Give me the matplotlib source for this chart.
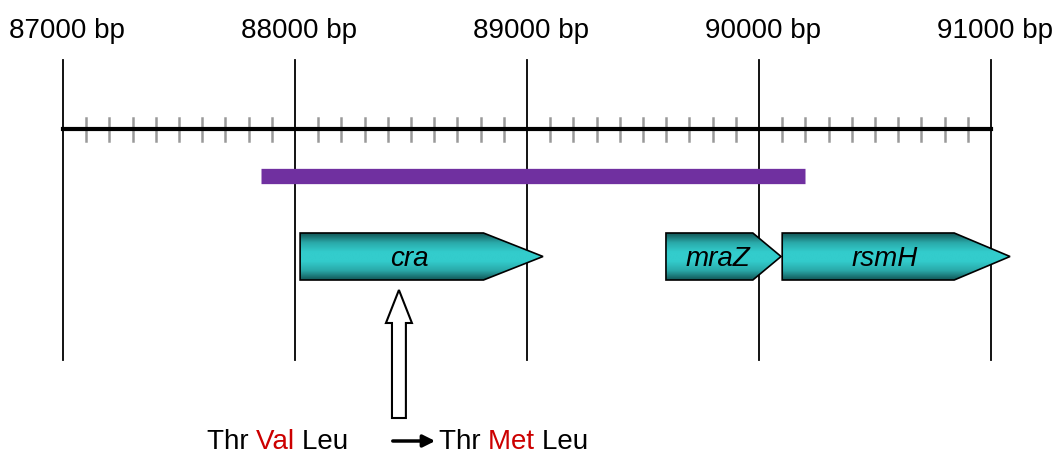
import numpy as np
import matplotlib.pyplot as plt
from matplotlib.patches import Polygon
from matplotlib.colors import LinearSegmentedColormap

plt.rcParams['font.family'] = ['Liberation Sans', 'DejaVu Sans']

# genome coordinates (bp)
major_ticks = [87000, 88000, 89000, 90000, 91000]
minor_step = 100
region = [87853, 90198]          # purple bar
gene_names = ['cra', 'mraZ', 'rsmH']
gene_starts = [88022, 89599, 90100]
gene_ends = [89069, 90095, 91082]
mutation_pos = 88448
before_aa = ['Thr', 'Val', 'Leu']
after_aa = ['Thr', 'Met', 'Leu']

px = 0.232  # pixels per bp
x0 = 87000 - 63 / px
fs = 20

fig = plt.figure(figsize=(10.54, 4.54), dpi=100)
ax = fig.add_axes([0, 0, 1, 1])
ax.set_xlim(x0, x0 + 1054 / px)
ax.set_ylim(454, 0)
ax.axis('off')

# ruler
for t in major_ticks:
    ax.plot([t, t], [60, 360], color='black', lw=1.3, zorder=2)
    ax.text(t + 17, 31, f'{t} bp', ha='center', va='center', fontsize=fs)
minors = [m for m in range(major_ticks[0], major_ticks[-1], minor_step) if m % 1000]
for m in minors:
    ax.plot([m, m], [118, 141], color='#999999', lw=1.8, zorder=2)
ax.plot([major_ticks[0], major_ticks[-1]], [129, 129], color='black', lw=3, zorder=3)

# region bar
ax.plot(region, [175.5, 175.5], color='#7030A0', lw=11, solid_capstyle='butt', zorder=3)

# genes with vertical gradient
cmap = LinearSegmentedColormap.from_list('teal', ['#125858', '#2aa9a9', '#33CCCC', '#33CCCC', '#2aa9a9', '#125858'])
grad = np.linspace(0, 1, 100).reshape(-1, 1)
top, bot = 233, 280
for name, s, e in zip(gene_names, gene_starts, gene_ends):
    head = 0.245 * (e - s)
    pts = [(s, top), (e - head, top), (e, (top + bot) / 2), (e - head, bot), (s, bot)]
    poly = Polygon(pts, closed=True, fc='none', ec='black', lw=1.2, zorder=5)
    ax.add_patch(poly)
    im = ax.imshow(grad, cmap=cmap, aspect='auto', extent=[s, e, bot, top], zorder=4,
                   interpolation='bilinear')
    im.set_clip_path(Polygon(pts, closed=True, transform=ax.transData))
    ax.text(s + (e - head - s) / 2 + head * 0.3, (top + bot) / 2 + 2, name,
            ha='center', va='center', fontsize=fs, style='italic', zorder=6)

# mutation arrow (open)
sw, hw = 30, 56
ax.add_patch(Polygon([(mutation_pos - sw, 418), (mutation_pos - sw, 323),
                      (mutation_pos - hw, 323), (mutation_pos, 290),
                      (mutation_pos + hw, 323), (mutation_pos + sw, 323),
                      (mutation_pos + sw, 418)], closed=True,
                     fc='white', ec='black', lw=1.5, zorder=5))

# amino acid change
def aa_text(x, words):
    t = None
    for i, w in enumerate(words):
        col = '#CC0000' if i == 1 else 'black'
        if t is None:
            t = ax.text(x, 442, w + ' ', ha='left', va='center', fontsize=fs, color=col)
        else:
            t = ax.annotate(w + ' ', xycoords=t, xy=(1, 0), va='bottom', ha='left',
                            fontsize=fs, color=col)

aa_text(x0 + 207 / px, before_aa)
aa_text(x0 + 439 / px, after_aa)
ax.annotate('', xy=(x0 + 438 / px, 441), xytext=(x0 + 390 / px, 441),
            arrowprops=dict(arrowstyle='-|>', color='black', lw=2.5, mutation_scale=18))

fig.savefig('out.png', dpi=100)
